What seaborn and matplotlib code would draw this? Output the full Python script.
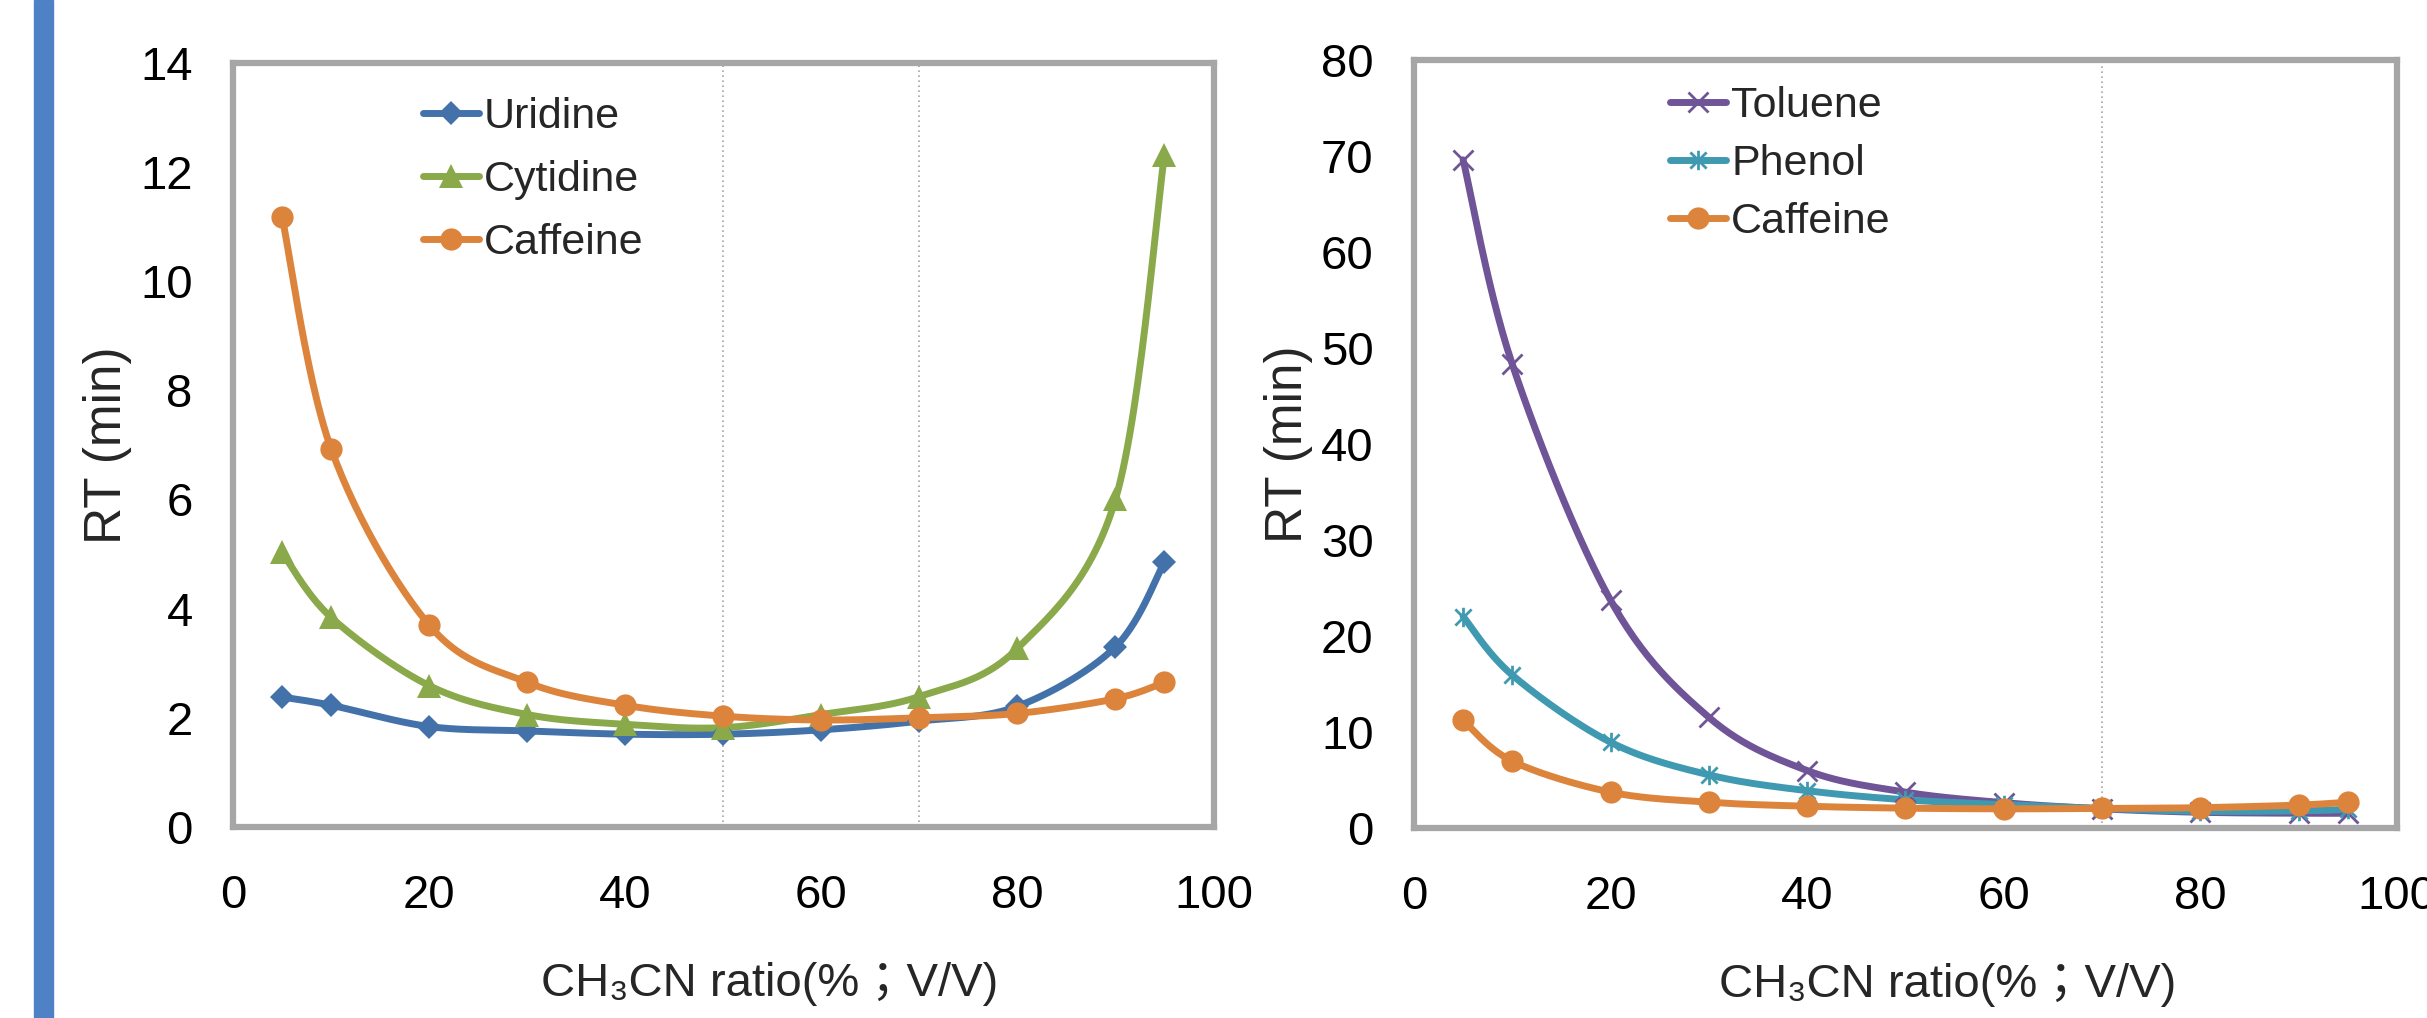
"""RT vs CH3CN ratio, two panels (nucleosides / aromatics)."""
import numpy as np
import pandas as pd
import seaborn as sns
import matplotlib.pyplot as plt
from matplotlib.lines import Line2D
from matplotlib.path import Path
from matplotlib.patches import Rectangle

# data
ratio = [5, 10, 20, 30, 40, 50, 60, 70, 80, 90, 95]
uridine = [2.38, 2.23, 1.84, 1.76, 1.70, 1.70, 1.78, 1.94, 2.21, 3.30, 4.85]
cytidine = [5.03, 3.84, 2.59, 2.06, 1.88, 1.82, 2.06, 2.39, 3.27, 6.00, 12.31]
caffeine = [11.18, 6.93, 3.70, 2.65, 2.23, 2.03, 1.96, 2.00, 2.08, 2.35, 2.65]
toluene = [69.6, 48.3, 23.7, 11.5, 5.95, 3.7, 2.6, 1.96, 1.6, 1.5, 1.5]
phenol = [22.0, 15.9, 8.9, 5.5, 3.85, 2.9, 2.4, 2.0, 1.7, 1.75, 1.9]

left_ticks = list(range(0, 15, 2))
right_ticks = list(range(0, 81, 10))
x_ticks = list(range(0, 101, 20))
xlabel = "CH₃CN ratio(%；V/V)"
ylabel = "RT (min)"

# excel style asterisk marker (x plus a vertical bar)
star = Path([(-1, -1), (1, 1), (-1, 1), (1, -1), (0, -1.2), (0, 1.2)],
            [Path.MOVETO, Path.LINETO, Path.MOVETO, Path.LINETO, Path.MOVETO, Path.LINETO])

styles = {
    "Uridine": dict(color="#4372AA", marker="D", ms=12.5, mew=0),
    "Cytidine": dict(color="#8AA94A", marker="^", ms=17, mew=0),
    "Caffeine": dict(color="#DD843C", marker="o", ms=16, mew=0),
    "Toluene": dict(color="#6F5497", marker="x", ms=15, mew=2),
    "Phenol": dict(color="#3F9AB1", marker=star, ms=14, mew=2),
}

LW = 5


def smooth(x, y, n=30):
    # smoothed line like excel: bezier segments through every point
    p = np.column_stack([x, y]).astype(float)
    p = np.vstack([p[0], p, p[-1]])
    t = np.linspace(0, 1, n)[:, None]
    out = []
    for i in range(1, len(p) - 2):
        p0, p1, p2, p3 = p[i - 1], p[i], p[i + 1], p[i + 2]
        c1 = p1 + (p2 - p0) / 6
        c2 = p2 - (p3 - p1) / 6
        out.append((1 - t) ** 3 * p1 + 3 * (1 - t) ** 2 * t * c1
                   + 3 * (1 - t) * t ** 2 * c2 + t ** 3 * p2)
    c = np.vstack(out)
    return c[:, 0], c[:, 1]


sns.set_theme(style="white")
plt.rcParams["font.family"] = ["Liberation Sans", "DejaVu Sans", "Noto Sans CJK JP"]

fig = plt.figure(figsize=(24.27, 10.18), dpi=100)
ax1 = fig.add_axes([0.096, 0.1876, 0.404, 0.751])
ax2 = fig.add_axes([0.5826, 0.187, 0.405, 0.754])

# blue bar on the left edge
fig.add_artist(Rectangle((34 / 2427, 0), 19 / 2427, 1, transform=fig.transFigure,
                         color="#4F81C7", zorder=0))

panels = [
    (ax1, {"Uridine": uridine, "Cytidine": cytidine, "Caffeine": caffeine}, left_ticks, [50, 70],
     (0.1937, 0.955), 0.54, 0.547),
    (ax2, {"Toluene": toluene, "Phenol": phenol, "Caffeine": caffeine}, right_ticks, [70],
     (0.2604, 0.966), 0.42, 0.543),
]

for ax, series, yticks, vlines, leg_pos, leg_sp, xlab_x in panels:
    for v in vlines:
        ax.axvline(v, color="#a6a6a6", lw=1.2, ls=(0, (1, 2)), zorder=1)

    handles = []
    for name, vals in series.items():
        st = styles[name]
        cx, cy = smooth(ratio, vals)
        df = pd.DataFrame({"x": cx, "y": cy})
        sns.lineplot(data=df, x="x", y="y", ax=ax, color=st["color"], lw=LW,
                     sort=False, estimator=None, zorder=3)
        ax.plot(ratio, vals, ls="none", marker=st["marker"], ms=st["ms"],
                color=st["color"], mec=st["color"], mew=st["mew"], zorder=4)
        handles.append(Line2D([], [], color=st["color"], lw=LW, marker=st["marker"],
                              ms=st["ms"], mec=st["color"], mew=st["mew"],
                              solid_capstyle="round"))

    ax.legend(handles, list(series.keys()), loc="upper left", bbox_to_anchor=leg_pos,
              frameon=False, fontsize=31, handlelength=1.3, handletextpad=0.12,
              labelspacing=leg_sp, borderpad=0, borderaxespad=0)

    ax.set_xlim(0, 100)
    ax.set_ylim(yticks[0], yticks[-1])
    ax.set_xticks(x_ticks)
    ax.set_yticks(yticks)
    ax.tick_params(direction="in", length=8, width=1.5, color="#8c8c8c",
                   labelsize=34, labelcolor="black")
    ax.tick_params(axis="x", pad=34)
    ax.tick_params(axis="y", pad=29)
    for sp in ax.spines.values():
        sp.set_visible(True)
        sp.set_color("#a6a6a6")
        sp.set_linewidth(4.5)

    ax.set_xlabel(xlabel, fontsize=34)
    ax.set_ylabel(ylabel, fontsize=37)
    ax.xaxis.set_label_coords(xlab_x, -0.176)
    ax.yaxis.set_label_coords(-0.103, 0.5)

fig.savefig("out.png", dpi=100)
